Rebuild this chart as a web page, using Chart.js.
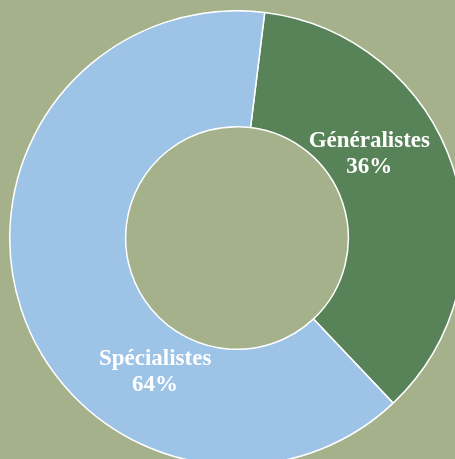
<!DOCTYPE html>
<html>
<head>
<meta charset="utf-8">
<script src="https://cdn.jsdelivr.net/npm/chart.js@4"></script>
<style>
  html, body { margin: 0; padding: 0; width: 455px; height: 459px; overflow: hidden; background: #a4b18b; }
  #wrap { position: absolute; left: 9px; top: 10px; width: 456px; height: 456px; }
</style>
</head>
<body>
<div id="wrap"><canvas id="chart"></canvas></div>
<script>
const categories = ['Généralistes', 'Spécialistes'];
const values = [36, 64];
const sliceColors = ['#588257', '#9dc3e6'];

// where the label sits inside its slice: share of the slice angle, share of outer radius
const labelSpots = [[0.39, 0.69], [0.325, 0.69]];

const labelPlugin = {
  id: 'sliceLabels',
  afterDatasetsDraw(chart) {
    const ctx = chart.ctx;
    const meta = chart.getDatasetMeta(0);
    ctx.save();
    ctx.fillStyle = '#ffffff';
    ctx.font = 'bold 23px "Liberation Serif", "Times New Roman", serif';
    ctx.textAlign = 'center';
    ctx.textBaseline = 'middle';
    meta.data.forEach((arc, i) => {
      const p = arc.getProps(['x', 'y', 'startAngle', 'endAngle', 'outerRadius'], true);
      const a = p.startAngle + (p.endAngle - p.startAngle) * labelSpots[i][0];
      const r = p.outerRadius * labelSpots[i][1];
      const x = p.x + Math.cos(a) * r;
      const y = p.y + Math.sin(a) * r;
      ctx.fillText(categories[i], x, y - 13);
      ctx.fillText(values[i] + '%', x, y + 13);
    });
    ctx.restore();
  }
};

new Chart(document.getElementById('chart'), {
  type: 'doughnut',
  data: {
    labels: categories,
    datasets: [{
      data: values,
      backgroundColor: sliceColors,
      borderColor: '#ffffff',
      borderWidth: 1.5
    }]
  },
  options: {
    responsive: true,
    maintainAspectRatio: false,
    animation: false,
    rotation: 7,
    cutout: '49%',
    layout: { padding: 0 },
    plugins: {
      legend: { display: false },
      tooltip: { enabled: false }
    }
  },
  plugins: [labelPlugin]
});
</script>
</body>
</html>
